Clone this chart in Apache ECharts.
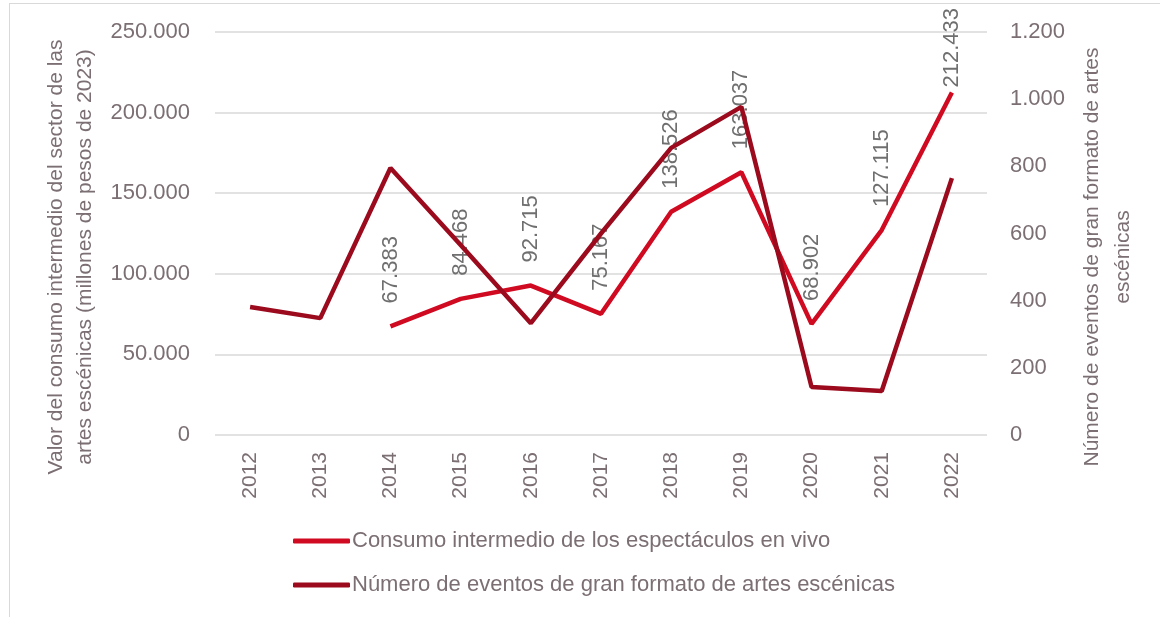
<!DOCTYPE html>
<html>
<head>
<meta charset="utf-8">
<script src="https://cdn.jsdelivr.net/npm/echarts@6/dist/echarts.min.js"></script>
<style>
  html, body { margin: 0; padding: 0; background: #fff; }
  #frame { position: absolute; left: 9px; top: 3px; width: 1160px; height: 620px;
           border-left: 1px solid #d9d9d9; border-top: 1px solid #d9d9d9; }
  #chart { position: absolute; left: 0; top: 0; width: 1160px; height: 617px; }
</style>
</head>
<body>
<div id="frame"></div>
<div id="chart"></div>
<script>
var years = ['2012', '2013', '2014', '2015', '2016', '2017', '2018', '2019', '2020', '2021', '2022']
// millones de pesos de 2023
var consumo = [null, null, 67383, 84468, 92715, 75167, 138526, 163037, 68902, 127115, 212433]
// numero de eventos (eje derecho)
var eventos = [381, 348, 795, 566, 333, 600, 855, 977, 143, 131, 765]

var textColor = '#7b6f73'
var font = "'Liberation Sans', Arial, sans-serif"

function fmtMiles(v) {
  return String(v).replace(/\B(?=(\d{3})+(?!\d))/g, '.')
}

// la etiqueta del ultimo punto va pegada a la linea para no salirse arriba
var consumoData = consumo.map(function (v, i) {
  if (i === consumo.length - 1) return { value: v, label: { distance: 5 } }
  return v
})

var myChart = echarts.init(document.getElementById('chart'))

myChart.setOption({
  animation: false,
  textStyle: { fontFamily: font, color: textColor },
  grid: { left: 215, right: 173, top: 32, bottom: 182, containLabel: false, outerBoundsMode: 'none' },
  legend: {
    orient: 'vertical',
    left: 288,
    top: 525,
    itemGap: 22,
    itemWidth: 57,
    itemHeight: 5,
    icon: 'roundRect',
    textStyle: { fontFamily: font, fontSize: 22, color: textColor, padding: [0, 0, 0, -3] },
    data: ['Consumo intermedio de los espectáculos en vivo', 'Número de eventos de gran formato de artes escénicas']
  },
  xAxis: {
    type: 'category',
    data: years,
    axisLine: { show: false },
    axisTick: { show: false },
    axisLabel: { rotate: 90, fontSize: 21, color: textColor, margin: 17, fontFamily: font }
  },
  yAxis: [
    {
      type: 'value',
      min: 0, max: 250000, interval: 50000,
      name: 'Valor del consumo intermedio del sector de las\nartes escénicas (millones de pesos de 2023)',
      nameLocation: 'middle',
      nameRotate: 90,
      nameGap: 107,
      nameTextStyle: { fontSize: 21, color: textColor, lineHeight: 29, fontFamily: font, padding: [0, 47, 0, 0] },
      axisLine: { show: false },
      axisTick: { show: false },
      splitLine: { lineStyle: { color: '#d9d9d9', width: 1.5 } },
      axisLabel: { fontSize: 22, color: textColor, margin: 25, fontFamily: font, formatter: fmtMiles }
    },
    {
      type: 'value',
      min: 0, max: 1200, interval: 200,
      name: 'Número de eventos de gran formato de artes\nescénicas',
      nameLocation: 'middle',
      nameRotate: 90,
      nameGap: 90,
      nameTextStyle: { fontSize: 21, color: textColor, lineHeight: 31, fontFamily: font, padding: [0, 47, 0, 0] },
      axisLine: { show: false },
      axisTick: { show: false },
      splitLine: { show: false },
      axisLabel: { fontSize: 22, color: textColor, margin: 23, fontFamily: font, formatter: fmtMiles }
    }
  ],
  series: [
    {
      name: 'Consumo intermedio de los espectáculos en vivo',
      type: 'line',
      yAxisIndex: 0,
      data: consumoData,
      symbol: 'circle',
      symbolSize: 0,
      showSymbol: true,
      color: '#cf0a21',
      lineStyle: { width: 4.5, color: '#cf0a21' },
      label: {
        show: true,
        position: 'top',
        rotate: 90,
        align: 'left',
        verticalAlign: 'middle',
        distance: 23,
        fontSize: 22,
        fontFamily: font,
        color: '#6f6f6f',
        formatter: function (p) { return fmtMiles(p.value) }
      },
      z: 2
    },
    {
      name: 'Número de eventos de gran formato de artes escénicas',
      type: 'line',
      yAxisIndex: 1,
      data: eventos,
      symbol: 'none',
      color: '#9b0a1d',
      lineStyle: { width: 4.5, color: '#9b0a1d' },
      z: 3
    }
  ]
})
</script>
</body>
</html>
